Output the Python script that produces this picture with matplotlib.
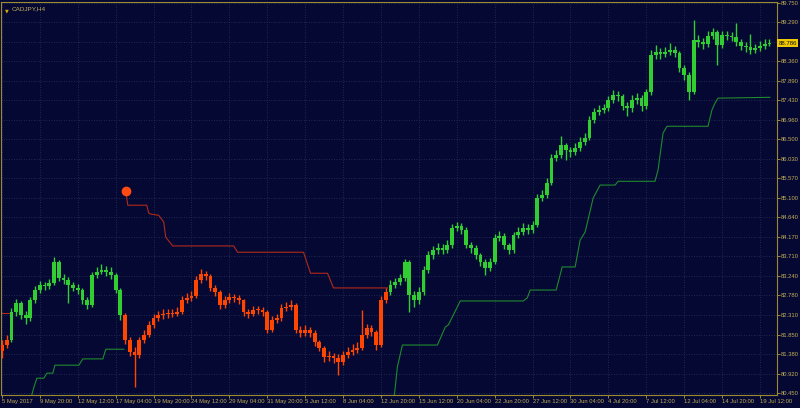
import numpy as np
import matplotlib.pyplot as plt
import matplotlib.transforms as mtransforms

symbol = "CADJPY,H4"
last_price = 88.786

# one bar = 8 hours (two H4 bars of the original screen)
first_open = 81.45
closes = [81.60, 81.72, 82.39, 82.60, 82.31, 82.24, 82.67, 82.91, 83.03, 83.00,
          83.08, 83.58, 83.20, 83.15, 83.03, 82.96, 82.91, 82.67, 82.55, 83.27,
          83.34, 83.39, 83.34, 83.27, 82.91, 82.31, 81.72, 81.43, 81.36, 81.72,
          81.84, 82.08, 82.24, 82.31, 82.34, 82.36, 82.34, 82.39, 82.67, 82.72,
          82.77, 83.15, 83.29, 83.24, 82.96, 82.86, 82.55, 82.67, 82.74, 82.72,
          82.67, 82.39, 82.34, 82.43, 82.43, 82.39, 81.96, 82.20, 82.24, 82.48,
          82.50, 82.55, 81.96, 81.89, 81.96, 81.89, 81.67, 81.53, 81.31, 81.34,
          81.29, 81.20, 81.36, 81.43, 81.48, 81.53, 81.84, 82.00, 81.91, 81.60,
          82.67, 82.86, 83.03, 83.10, 83.20, 83.58, 82.79, 82.67, 82.86, 83.39,
          83.74, 83.86, 83.91, 83.86, 83.98, 84.39, 84.43, 84.34, 83.98, 83.91,
          83.74, 83.58, 83.43, 83.58, 84.15, 84.20, 83.98, 83.86, 84.22, 84.29,
          84.39, 84.34, 84.46, 85.10, 85.17, 85.46, 86.05, 86.12, 86.36, 86.24,
          86.20, 86.29, 86.43, 86.53, 86.96, 87.15, 87.20, 87.24, 87.43, 87.55,
          87.53, 87.29, 87.24, 87.43, 87.48, 87.29, 87.62, 88.51, 88.58, 88.53,
          88.58, 88.62, 88.55, 88.20, 88.03, 87.62, 88.86, 88.81, 88.77, 88.96,
          89.05, 88.74, 88.98, 88.96, 88.93, 88.81, 88.72, 88.69, 88.62, 88.67,
          88.72, 88.77, 88.79]
highs = [81.72, 81.85, 82.48, 82.70, 82.66, 82.40, 82.75, 83.00, 83.12, 83.10,
         83.18, 83.70, 83.62, 83.30, 83.22, 83.10, 83.05, 82.95, 82.75, 83.35,
         83.45, 83.52, 83.48, 83.45, 83.32, 82.95, 82.36, 81.80, 81.55, 81.80,
         81.95, 82.18, 82.35, 82.42, 82.45, 82.46, 82.45, 82.50, 82.76, 82.84,
         82.88, 83.24, 83.42, 83.36, 83.28, 83.02, 82.90, 82.76, 82.84, 82.82,
         82.80, 82.70, 82.46, 82.52, 82.53, 82.50, 82.43, 82.28, 82.34, 82.58,
         82.62, 82.68, 82.60, 82.05, 82.08, 82.03, 81.95, 81.72, 81.58, 81.45,
         81.42, 81.38, 81.46, 81.55, 81.62, 81.68, 82.43, 82.10, 82.08, 81.96,
         82.76, 82.95, 83.14, 83.20, 83.30, 83.66, 83.62, 82.88, 82.98, 83.48,
         83.85, 83.96, 84.02, 84.00, 84.10, 84.48, 84.52, 84.50, 84.40, 84.06,
         83.98, 83.80, 83.65, 83.68, 84.25, 84.32, 84.26, 84.04, 84.30, 84.40,
         84.50, 84.48, 84.56, 85.20, 85.30, 85.58, 86.14, 86.25, 86.58, 86.42,
         86.32, 86.40, 86.55, 86.66, 87.05, 87.25, 87.32, 87.35, 87.52, 87.68,
         87.66, 87.58, 87.38, 87.55, 87.60, 87.55, 87.70, 88.62, 88.75, 88.68,
         88.70, 88.80, 88.72, 88.60, 88.28, 88.10, 89.34, 88.98, 88.92, 89.08,
         89.15, 89.10, 89.08, 89.08, 89.05, 89.27, 88.90, 88.82, 89.00, 88.78,
         88.84, 88.90, 88.88]
lows = [81.30, 81.52, 81.68, 82.30, 82.22, 82.10, 82.18, 82.60, 82.85, 82.90,
        82.93, 83.02, 83.12, 83.05, 82.60, 82.88, 82.82, 82.58, 82.45, 82.50,
        83.20, 83.28, 83.25, 83.18, 82.85, 82.20, 81.62, 81.35, 80.60, 81.30,
        81.65, 81.78, 82.00, 82.18, 82.22, 82.25, 82.26, 82.28, 82.33, 82.60,
        82.64, 82.72, 83.08, 83.15, 82.88, 82.76, 82.45, 82.48, 82.60, 82.63,
        82.58, 82.30, 82.25, 82.28, 82.35, 82.30, 81.88, 81.90, 82.12, 82.18,
        82.40, 82.44, 81.88, 81.80, 81.82, 81.80, 81.58, 81.45, 81.20, 81.22,
        81.18, 80.88, 81.12, 81.28, 81.36, 81.40, 81.48, 81.76, 81.82, 81.48,
        81.55, 82.60, 82.78, 82.95, 83.02, 83.12, 82.39, 82.50, 82.58, 82.80,
        83.32, 83.66, 83.78, 83.76, 83.80, 83.92, 84.32, 84.25, 83.90, 83.80,
        83.64, 83.48, 83.27, 83.36, 83.52, 84.08, 83.88, 83.76, 83.80, 84.15,
        84.22, 84.25, 84.28, 84.40, 85.02, 85.10, 85.40, 85.98, 86.05, 86.00,
        86.08, 86.12, 86.22, 86.36, 86.48, 86.88, 87.08, 87.12, 87.18, 87.36,
        87.42, 87.20, 87.05, 87.16, 87.35, 87.18, 87.22, 87.55, 88.42, 88.42,
        88.45, 88.50, 88.45, 88.10, 87.92, 87.43, 87.58, 88.70, 88.66, 88.70,
        88.88, 88.27, 88.68, 88.86, 88.84, 88.72, 88.62, 88.58, 88.52, 88.55,
        88.60, 88.66, 88.72]
red_spans = [(0, 1), (26, 81)]

# trailing stop lines (bar position, price)
res0_x = [-0.5, 1.5]
res0_y = [82.36, 82.36]
res_x = [26.14, 26.56, 30.56, 30.99, 31.41, 33.09, 34.15, 34.57, 36.05, 48.90,
         49.75, 63.66, 65.13, 68.72, 69.98, 81.37]
res_y = [85.27, 84.93, 84.93, 84.74, 84.72, 84.69, 84.53, 84.17, 83.96, 83.96,
         83.81, 83.81, 83.31, 83.31, 82.96, 82.96]
sup1_x = [6.01, 6.75, 7.38, 8.85, 9.49, 10.75, 11.17, 16.23, 17.07, 21.29,
          21.92, 25.72]
sup1_y = [80.29, 80.60, 80.81, 80.81, 80.93, 80.93, 81.12, 81.12, 81.27, 81.27,
          81.50, 81.50]
sup2_x = [82.63, 82.84, 83.47, 84.53, 91.91, 93.59, 94.23, 96.75, 110.03, 110.88,
          111.51, 116.99, 118.25, 120.99, 122.05, 123.10, 124.79, 126.26, 129.43, 130.06,
          137.85, 138.49, 139.55, 140.39, 149.03, 149.87, 150.51, 151.14, 162.10]
sup2_y = [80.29, 80.41, 81.08, 81.60, 81.60, 82.03, 82.08, 82.65, 82.65, 82.72,
          82.91, 82.91, 83.46, 83.46, 84.10, 84.29, 85.10, 85.41, 85.41, 85.50,
          85.50, 85.77, 86.65, 86.81, 86.81, 87.20, 87.36, 87.48, 87.50]
signal_x = 26.14
signal_y = 85.27

date_labels = ["5 May 2017", "9 May 20:00", "12 May 12:00", "17 May 04:00", "19 May 20:00",
               "24 May 12:00", "29 May 04:00", "31 May 20:00", "5 Jun 12:00", "8 Jun 04:00",
               "12 Jun 20:00", "15 Jun 12:00", "20 Jun 04:00", "22 Jun 20:00", "27 Jun 12:00",
               "30 Jun 04:00", "4 Jul 20:00", "7 Jul 12:00", "12 Jul 04:00", "14 Jul 20:00",
               "19 Jul 12:00"]
price_labels = ["80.450", "80.920", "81.380", "81.850", "82.310", "82.780", "83.240",
                "83.710", "84.170", "84.640", "85.100", "85.570", "86.030", "86.500",
                "86.960", "87.430", "87.890", "88.360", "88.820", "89.290", "89.750"]

plt.rcParams['font.family'] = ['Liberation Sans', 'DejaVu Sans']

bg = '#050833'
frame = '#9c8a30'
txt = '#c0ad58'
green = '#32cd32'
red = '#ff4500'

fig = plt.figure(figsize=(8, 4.08), dpi=100, facecolor=bg)
ax = fig.add_axes([1 / 800, 13 / 408, 776 / 800, 393 / 408])
ax.set_facecolor(bg)

n = len(closes)
x = np.arange(n)
opens = [first_open] + closes[:-1]
cols = [green] * n
for a, b in red_spans:
    for i in range(a, b + 1):
        cols[i] = red

ax.vlines(x, lows, highs, colors=cols, linewidth=1.0, zorder=3)
bot = np.minimum(opens, closes)
hgt = np.maximum(np.abs(np.array(closes) - np.array(opens)), 0.03)
ax.bar(x, hgt, bottom=bot, width=0.8, color=cols, linewidth=0, zorder=3)

ax.plot(res0_x, res0_y, color='#b02a1a', lw=0.8, zorder=2)
ax.plot(res_x, res_y, color='#b02a1a', lw=0.8, zorder=2)
ax.plot(sup1_x, sup1_y, color='#1f8a2e', lw=0.8, zorder=2)
ax.plot(sup2_x, sup2_y, color='#1f8a2e', lw=0.8, zorder=2)
ax.plot([signal_x], [signal_y], 'o', color='#ff4a12', ms=6, zorder=4)

ax.set_xlim(-0.2, 163.6)
ax.set_ylim(80.41, 89.77)

ax.set_xticks(np.arange(len(date_labels)) * 8)
ax.set_xticklabels(date_labels)
for t in ax.get_xticklabels():
    t.set_horizontalalignment('left')
ax.yaxis.tick_right()
ax.set_yticks([float(p) for p in price_labels])
ax.set_yticklabels([p if p != "88.820" else "" for p in price_labels])

ax.tick_params(axis='both', colors=frame, labelcolor=txt, labelsize=4.25,
               length=2, width=0.7, direction='out', pad=1)
for s in ax.spines.values():
    s.set_color(frame)
    s.set_linewidth(0.8)

ax.grid(True, color='#2b3458', linestyle=(0, (1, 2)), linewidth=0.6)
ax.set_axisbelow(True)

tr = mtransforms.blended_transform_factory(ax.transAxes, ax.transData)
ax.text(1.002, last_price, f"{last_price:.3f}", transform=tr, ha='left', va='center',
        fontsize=4.3, color='#101010', clip_on=False,
        bbox=dict(boxstyle='square,pad=0.25', fc='#f0c800', ec='none'))

ax.text(0.005, 0.985, "\u25bc", transform=ax.transAxes, ha='left', va='top',
        fontsize=3.5, color='#d8b000', family='DejaVu Sans')
ax.text(0.014, 0.988, symbol, transform=ax.transAxes, ha='left', va='top',
        fontsize=4.6, color=txt)

fig.savefig('out.png', dpi=100, facecolor=bg)
